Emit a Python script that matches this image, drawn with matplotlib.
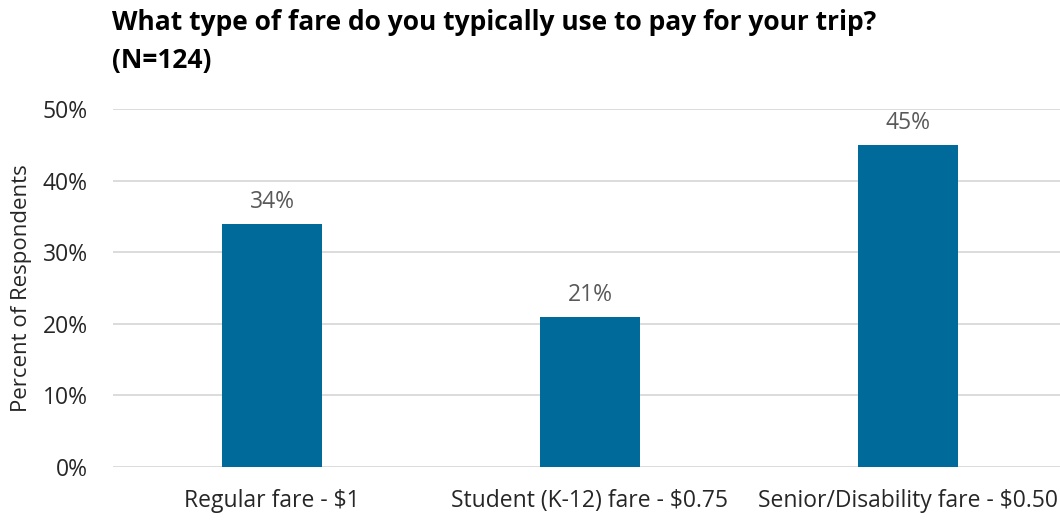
import matplotlib.pyplot as plt
from matplotlib.ticker import PercentFormatter

categories = ["Regular fare - $1", "Student (K-12) fare - $0.75", "Senior/Disability fare - $0.50"]
shares = [34, 21, 45]
yticks = [0, 10, 20, 30, 40, 50]

plt.rcParams['font.family'] = ['Open Sans', 'DejaVu Sans']

fig = plt.figure(figsize=(10.6, 5.21), dpi=100)
ax = fig.add_axes([0.1066, 0.1036, 0.9, 0.6872])

x = range(len(categories))
bars = ax.bar(x, shares, width=0.315, color="#006B9A", zorder=3)
for b, v in zip(bars, shares):
    ax.annotate(f"{v}%", (b.get_x() + b.get_width() / 2, v), xytext=(0, 7),
                textcoords="offset points", ha="center", va="bottom",
                fontsize=16.5, color="#595959")

ax.set_xlim(-0.5, len(categories) - 0.5)
ax.set_ylim(0, 50)
ax.set_yticks(yticks)
ax.yaxis.set_major_formatter(PercentFormatter(decimals=0))
ax.set_xticks(list(x))
ax.set_xticklabels(categories)
ax.grid(axis="y", color="#D9D9D9", linewidth=1.3, zorder=0)
for s in ax.spines.values():
    s.set_visible(False)
ax.tick_params(length=0, labelsize=16.5, labelcolor="#262626")
ax.tick_params(axis="x", pad=16)
ax.tick_params(axis="y", pad=18)
ax.set_ylabel("Percent of Respondents", fontsize=16, color="#262626", labelpad=8)

fig.text(0.106, 0.982, "What type of fare do you typically use to pay for your trip?\n(N=124)",
         ha="left", va="top", fontsize=19, fontweight="bold", linespacing=1.5)

fig.savefig("out.png", dpi=100)
